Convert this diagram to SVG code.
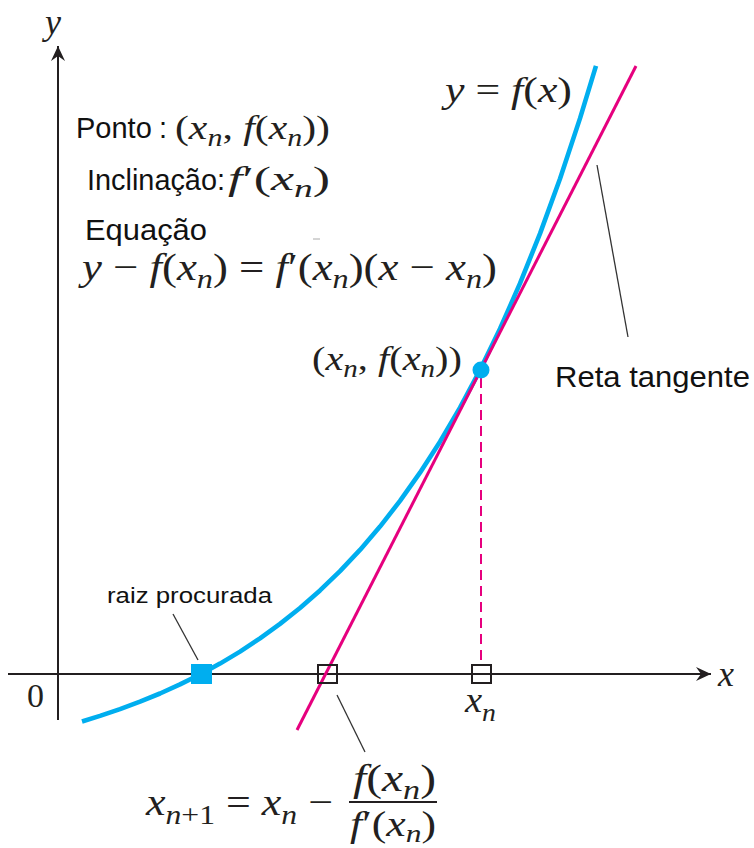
<svg xmlns="http://www.w3.org/2000/svg" width="754" height="848" viewBox="0 0 754 848">
<style>
.lbl{font-family:"Liberation Sans",Arial,sans-serif;fill:#111}
.m{font-family:"Liberation Serif","Times New Roman",serif;fill:#231f20}
.i{font-style:italic}
.s{font-size:0.72em}
.ax{stroke:#231f20;stroke-width:2;fill:none}
.lead{stroke:#333;stroke-width:1.3;fill:none}
.curve{stroke:#00aeef;stroke-width:4.6;fill:none;stroke-linejoin:round}
.tan{stroke:#e6007e;stroke-width:3;fill:none}
.hollow{fill:#fff;fill-opacity:0;stroke:#231f20;stroke-width:2}
</style>
<defs>
<marker id="arr" viewBox="-16 -8 18 16" refX="0" refY="0" markerWidth="18" markerHeight="16" markerUnits="userSpaceOnUse" orient="auto">
<path d="M0,0 L-15,-7 L-10,0 L-15,7 Z" fill="#231f20"/>
</marker>
</defs>
<rect width="754" height="848" fill="#fff"/>

<g id="axes">
<line class="ax" x1="58" y1="720" x2="58" y2="46" marker-end="url(#arr)"/>
<line class="ax" x1="8" y1="674" x2="711" y2="674" marker-end="url(#arr)"/>
<text class="m i" x="45" y="34" font-size="36">y</text>
<text class="m i" x="718" y="686" font-size="36">x</text>
<text class="m" x="27" y="707" font-size="34">0</text>
</g>

<g id="connectors">
<line class="lead" x1="173" y1="614" x2="198" y2="660"/>
<line class="lead" x1="337" y1="695" x2="365" y2="752"/>
<line class="lead" x1="597" y1="165" x2="628" y2="337"/>
<line x1="481" y1="378" x2="481" y2="666" stroke="#e6007e" stroke-width="2" stroke-dasharray="10,6"/>
</g>

<g id="curve">
<path class="curve" d="M82,721.5 L100,715.9 L120,709.1 L140,701.7 L160,693.5 L180,684.4 L201,674 L220,663.6 L240,651.6 L260,638.4 L280,623.9 L300,608 L320,590.4 L340,571.1 L360,549.9 L380,526.6 L400,500.9 L420,472.7 L440,441.7 L460,407.6 L480,370.1 L500,328.8 L520,283.4 L540,233.6 L560,178.7 L580,118.4 L596,65.8"/>
<text class="m" x="445" y="102" font-size="36" textLength="127" lengthAdjust="spacingAndGlyphs"><tspan class="i">y</tspan> = <tspan class="i">f</tspan>(<tspan class="i">x</tspan>)</text>
</g>

<g id="tangent">
<line class="tan" x1="297" y1="730" x2="636" y2="66"/>
<text class="lbl" x="555" y="387" font-size="30" textLength="195" lengthAdjust="spacingAndGlyphs">Reta tangente</text>
</g>

<g id="point">
<circle cx="481" cy="370" r="8.5" fill="#00aeef"/>
<text class="m" x="312" y="370" font-size="34" textLength="150" lengthAdjust="spacingAndGlyphs">(<tspan class="i">x</tspan><tspan class="i s" dy="7">n</tspan><tspan dy="-7">, </tspan><tspan class="i">f</tspan>(<tspan class="i">x</tspan><tspan class="i s" dy="7">n</tspan><tspan dy="-7">))</tspan></text>
</g>

<g id="root">
<rect x="191" y="664" width="21" height="20" fill="#00aeef"/>
<text class="lbl" x="107" y="603" font-size="22" textLength="165" lengthAdjust="spacingAndGlyphs">raiz procurada</text>
</g>

<g id="xn-mark">
<rect class="hollow" x="472" y="665" width="19" height="18"/>
<text class="m" x="465" y="712" font-size="36" textLength="31" lengthAdjust="spacingAndGlyphs"><tspan class="i">x</tspan><tspan class="i s" dy="9">n</tspan></text>
</g>

<g id="xn1-mark">
<rect class="hollow" x="318" y="665" width="19" height="18"/>
</g>

<g id="info">
<text class="lbl" x="76" y="138" font-size="29">Ponto<tspan x="159">:</tspan></text>
<text class="m" x="175" y="139" font-size="34" textLength="155" lengthAdjust="spacingAndGlyphs">(<tspan class="i">x</tspan><tspan class="i s" dy="7">n</tspan><tspan dy="-7">, </tspan><tspan class="i">f</tspan>(<tspan class="i">x</tspan><tspan class="i s" dy="7">n</tspan><tspan dy="-7">))</tspan></text>
<text class="lbl" x="87" y="190" font-size="29" textLength="138" lengthAdjust="spacingAndGlyphs">Inclinação:</text>
<text class="m" x="228" y="190" font-size="34" textLength="102" lengthAdjust="spacingAndGlyphs"><tspan class="i">f</tspan>′(<tspan class="i">x</tspan><tspan class="i s" dy="7">n</tspan><tspan dy="-7">)</tspan></text>
<text class="lbl" x="85" y="240" font-size="29" textLength="122" lengthAdjust="spacingAndGlyphs">Equação</text>
<text class="m" x="82" y="280" font-size="38" textLength="415" lengthAdjust="spacingAndGlyphs"><tspan class="i">y</tspan> − <tspan class="i">f</tspan>(<tspan class="i">x</tspan><tspan class="i s" dy="8">n</tspan><tspan dy="-8">) = </tspan><tspan class="i">f</tspan>′(<tspan class="i">x</tspan><tspan class="i s" dy="8">n</tspan><tspan dy="-8">)(</tspan><tspan class="i">x</tspan> − <tspan class="i">x</tspan><tspan class="i s" dy="8">n</tspan><tspan dy="-8">)</tspan></text>
<line x1="313" y1="239" x2="320" y2="239" stroke="#aaa" stroke-width="1"/>
</g>

<g id="formula">
<text class="m" x="146" y="815" font-size="38" textLength="187" lengthAdjust="spacingAndGlyphs"><tspan class="i">x</tspan><tspan class="s" dy="9"><tspan class="i">n</tspan>+1</tspan><tspan dy="-9"> = </tspan><tspan class="i">x</tspan><tspan class="i s" dy="9">n</tspan><tspan dy="-9"> −</tspan></text>
<line x1="349" y1="802" x2="437" y2="802" stroke="#231f20" stroke-width="2"/>
<text class="m" x="353" y="791" font-size="38" textLength="83" lengthAdjust="spacingAndGlyphs"><tspan class="i">f</tspan>(<tspan class="i">x</tspan><tspan class="i s" dy="8">n</tspan><tspan dy="-8">)</tspan></text>
<text class="m" x="350" y="836" font-size="36" textLength="86" lengthAdjust="spacingAndGlyphs"><tspan class="i">f</tspan>′(<tspan class="i">x</tspan><tspan class="i s" dy="6">n</tspan><tspan dy="-6">)</tspan></text>
</g>
</svg>
